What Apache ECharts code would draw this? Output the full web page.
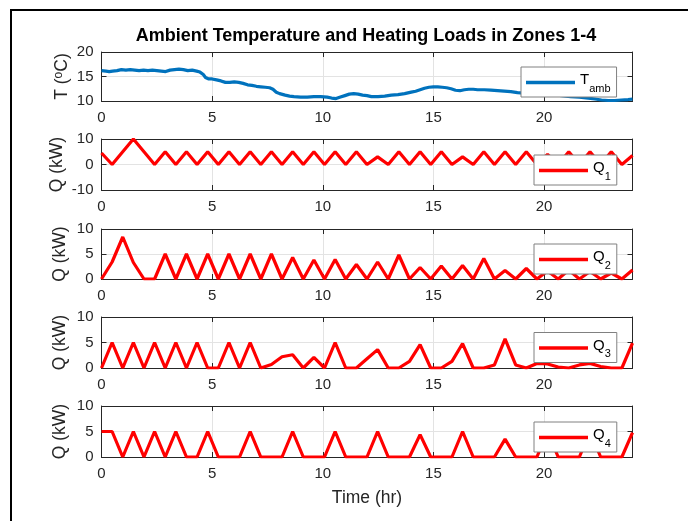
<!DOCTYPE html>
<html>
<head>
<meta charset="utf-8">
<script src="https://cdn.jsdelivr.net/npm/echarts@6/dist/echarts.min.js"></script>
<style>
html, body { margin: 0; padding: 0; background: #fff; }
#chart { width: 688px; height: 521px; }
</style>
</head>
<body>
<div id="chart"></div>
<script>
// ambient temperature
var tempHours = [0, 0.2, 0.35, 0.5, 0.7, 0.9, 1.1, 1.3, 1.5, 1.7, 1.9, 2.1, 2.3, 2.5, 2.7, 2.9, 3.1, 3.3, 3.5, 3.7, 3.9, 4.1, 4.3, 4.45, 4.6, 4.7, 4.85,
  5.0, 5.2, 5.4, 5.6, 5.8, 6.0, 6.2, 6.4, 6.6, 6.8, 7.0, 7.2, 7.4, 7.6, 7.75, 7.9, 8.05, 8.3, 8.5, 8.7, 9.0, 9.3, 9.6, 9.9,
  10.2, 10.4, 10.6, 10.8, 11.0, 11.2, 11.4, 11.6, 11.8, 12.0, 12.2, 12.5, 12.8, 13.1, 13.4, 13.7, 14.0, 14.2, 14.4, 14.6, 14.8,
  15.0, 15.2, 15.4, 15.6, 15.8, 16.0, 16.2, 16.4, 16.6, 16.8, 17.0, 17.3, 17.6, 17.9, 18.2, 18.5, 18.8, 19.1, 19.4, 19.7,
  20.0, 20.4, 20.8, 21.2, 21.6, 22.0, 22.3, 22.6, 22.9, 23.2, 23.5, 23.8, 24.0]
var tempValues = [16.2, 16.1, 16.0, 16.1, 16.2, 16.4, 16.3, 16.4, 16.3, 16.2, 16.3, 16.2, 16.3, 16.2, 16.1, 16.0, 16.3, 16.4, 16.5, 16.4, 16.2, 16.3, 16.1, 15.9, 15.4, 14.8, 14.5,
  14.5, 14.3, 14.1, 13.8, 13.8, 13.9, 13.8, 13.6, 13.3, 13.2, 13.0, 12.9, 12.8, 12.7, 12.4, 11.8, 11.5, 11.2, 11.0, 10.9, 10.8, 10.8, 10.9, 10.9,
  10.8, 10.6, 10.5, 10.8, 11.1, 11.4, 11.5, 11.4, 11.2, 11.1, 10.9, 10.9, 11.0, 11.2, 11.3, 11.5, 11.8, 12.0, 12.3, 12.6, 12.8,
  12.9, 12.9, 12.8, 12.7, 12.5, 12.2, 12.1, 12.3, 12.4, 12.4, 12.3, 12.3, 12.2, 12.1, 12.0, 11.9, 11.7, 11.6, 11.6, 11.5,
  11.4, 11.3, 11.1, 10.9, 10.8, 10.6, 10.4, 10.2, 10.1, 10.1, 10.2, 10.3, 10.4]

// heating loads, sampled every 0.48 hr
var qHours = [0, 0.48, 0.96, 1.44, 1.92, 2.4, 2.88, 3.36, 3.84, 4.32, 4.8, 5.28, 5.76, 6.24, 6.72, 7.2, 7.68, 8.16, 8.64, 9.12,
  9.6, 10.08, 10.56, 11.04, 11.52, 12, 12.48, 12.96, 13.44, 13.92, 14.4, 14.88, 15.36, 15.84, 16.32, 16.8, 17.28, 17.76, 18.24, 18.72,
  19.2, 19.68, 20.16, 20.64, 21.12, 21.6, 22.08, 22.56, 23.04, 23.52, 24]
var q1 = [4.5, 0, 5, 10, 5, 0, 5, 0, 5, 0, 5, 0, 5, 0, 5, 0, 5, 0, 5, 0, 5, 0, 5, 0, 5, 0, 3, 0, 5, 0, 5, 0, 5, 0, 3, 0, 5, 0, 5, 0, 5, 0, 4, 0, 5, 0, 5, 0, 5, 0, 3.5]
var q2 = [0, 3.4, 8.4, 3.3, 0, 0, 5, 0, 5, 0, 5, 0, 5, 0, 5, 0, 5, 0, 4.3, 0, 3.8, 0, 3.9, 0, 2.9, 0, 3.4, 0, 4.8, 0, 2.3, 0, 2.6, 0, 2.7, 0, 4.1, 0, 1.7, 0, 2.1, 0, 1.6, 0, 1.8, 0, 1.5, 0, 1.2, 0, 1.8]
var q3 = [0, 5, 0, 5, 0, 5, 0, 5, 0, 5, 0, 0, 5, 0, 5, 0, 0.7, 2.2, 2.6, 0, 2.1, 0, 5, 0, 0, 1.8, 3.6, 0, 0, 1.3, 4.6, 0, 0, 1.3, 4.8, 0, 0, 0.6, 5.7, 0.6, 0, 0.9, 0.8, 0.2, 0, 0.6, 0.9, 0.3, 0, 0, 4.9]
var q4 = [5, 5, 0, 5, 0, 5, 0, 5, 0, 0, 5, 0, 0, 0, 5, 0, 0, 0, 5, 0, 0, 0, 5, 0, 0, 0, 5, 0, 0, 0, 4.4, 0, 0, 0, 5, 0, 0, 0, 3.5, 0, 0, 0, 5, 0, 0, 0, 5, 0, 0, 0, 4.8]

var seriesNames = ['Tamb', 'Q1', 'Q2', 'Q3', 'Q4']
var yNames = ['T ({sup|o}C)', 'Q (kW)', 'Q (kW)', 'Q (kW)', 'Q (kW)']
var yMins = [10, -10, 0, 0, 0]
var yMaxs = [20, 10, 10, 10, 10]
var yIntervals = [5, 10, 5, 5, 5]
var xTickStep = 5

var font = "'Liberation Sans', Arial, sans-serif"
var ink = '#262626'
var tops = [52, 139, 229, 317, 406]
var heights = [49, 51, 50, 51, 51]
var nameGaps = [29, 34, 31, 31, 31]
var legendLeft = [521, 534, 534, 534, 534]
var legendTop = [67, 155, 244, 332.5, 422]

function pairs(xs, ys) {
  return xs.map(function (x, i) { return [x, ys[i]] })
}

var grid = [], xAxis = [], yAxis = [], series = [], legend = []
var lineStyle = { color: ink, width: 1 }
var tickStyle = { show: true, inside: true, length: 5, lineStyle: { color: ink, width: 1 } }

for (var i = 0; i < 5; i++) {
  grid.push({ left: 101.5, right: 55.5, top: tops[i], height: heights[i] })

  xAxis.push({
    type: 'value', gridIndex: i, min: 0, max: 24, interval: xTickStep, position: 'bottom',
    axisLine: { show: true, onZero: false, lineStyle: lineStyle },
    axisTick: tickStyle,
    axisLabel: { show: true, color: ink, fontSize: 15, fontFamily: font, margin: 9, showMaxLabel: false },
    splitLine: { show: true, lineStyle: { color: '#e3e3e3', width: 1 } },
    name: i == 4 ? 'Time (hr)' : '', nameLocation: 'middle', nameGap: 32, nameMoveOverlap: false,
    nameTextStyle: { color: ink, fontSize: 17.5, fontFamily: font }
  })
  xAxis.push({
    type: 'value', gridIndex: i, min: 0, max: 24, interval: xTickStep, position: 'top',
    axisLine: { show: true, onZero: false, lineStyle: lineStyle },
    axisTick: tickStyle,
    axisLabel: { show: false },
    splitLine: { show: false }
  })

  yAxis.push({
    type: 'value', gridIndex: i, min: yMins[i], max: yMaxs[i], interval: yIntervals[i], position: 'left',
    axisLine: { show: true, onZero: false, lineStyle: lineStyle },
    axisTick: tickStyle,
    axisLabel: { show: true, color: ink, fontSize: 15, fontFamily: font, margin: 8 },
    splitLine: { show: true, lineStyle: { color: '#e3e3e3', width: 1 } },
    name: yNames[i], nameLocation: 'middle', nameGap: nameGaps[i], nameMoveOverlap: false,
    nameTextStyle: {
      color: ink, fontSize: 17.5, fontFamily: font, lineHeight: 20,
      rich: { sup: { color: ink, fontSize: 12, fontFamily: font, lineHeight: 10, padding: [0, 0, 5, 0], verticalAlign: 'top' } }
    }
  })
  yAxis.push({
    type: 'value', gridIndex: i, min: yMins[i], max: yMaxs[i], interval: yIntervals[i], position: 'right',
    axisLine: { show: true, onZero: false, lineStyle: lineStyle },
    axisTick: tickStyle,
    axisLabel: { show: false },
    splitLine: { show: false }
  })

  legend.push({
    data: [seriesNames[i]], left: legendLeft[i], top: legendTop[i], selectedMode: false,
    icon: 'rect', itemWidth: 49, itemHeight: 3.5, itemGap: 0,
    padding: [4, 6, 3, 5], backgroundColor: '#fff', borderColor: '#808080', borderWidth: 1, borderRadius: 0,
    formatter: function (name) { return '{m|' + name.charAt(0) + '}{sub|' + name.slice(1) + '}' },
    textStyle: {
      color: '#000', fontFamily: font,
      rich: {
        m: { fontSize: 15, fontFamily: font, color: '#000', lineHeight: 20, verticalAlign: 'top' },
        sub: { fontSize: 11, fontFamily: font, color: '#000', lineHeight: 13, padding: [12, 0, 0, 0] }
      }
    }
  })
}

var qData = [q1, q2, q3, q4]
series.push({
  name: 'Tamb', type: 'line', xAxisIndex: 0, yAxisIndex: 0,
  data: pairs(tempHours, tempValues), showSymbol: false,
  lineStyle: { color: '#0072BD', width: 3.2 }, itemStyle: { color: '#0072BD' }
})
for (var k = 0; k < 4; k++) {
  series.push({
    name: seriesNames[k + 1], type: 'line', xAxisIndex: (k + 1) * 2, yAxisIndex: (k + 1) * 2,
    data: pairs(qHours, qData[k]), showSymbol: false,
    lineStyle: { color: '#FF0000', width: 3.2 }, itemStyle: { color: '#FF0000' }
  })
}

var chart = echarts.init(document.getElementById('chart'))
chart.setOption({
  animation: false,
  backgroundColor: '#fff',
  title: {
    text: 'Ambient Temperature and Heating Loads in Zones 1-4',
    left: 366, top: 27, textAlign: 'center', padding: 0,
    textStyle: { fontSize: 18, fontWeight: 'bold', color: '#000', fontFamily: font }
  },
  graphic: [{
    type: 'rect', shape: { x: 11, y: 10, width: 720, height: 560 },
    style: { fill: 'transparent', stroke: '#000', lineWidth: 2 }, silent: true
  }],
  grid: grid,
  xAxis: xAxis,
  yAxis: yAxis,
  legend: legend,
  series: series
})
</script>
</body>
</html>
